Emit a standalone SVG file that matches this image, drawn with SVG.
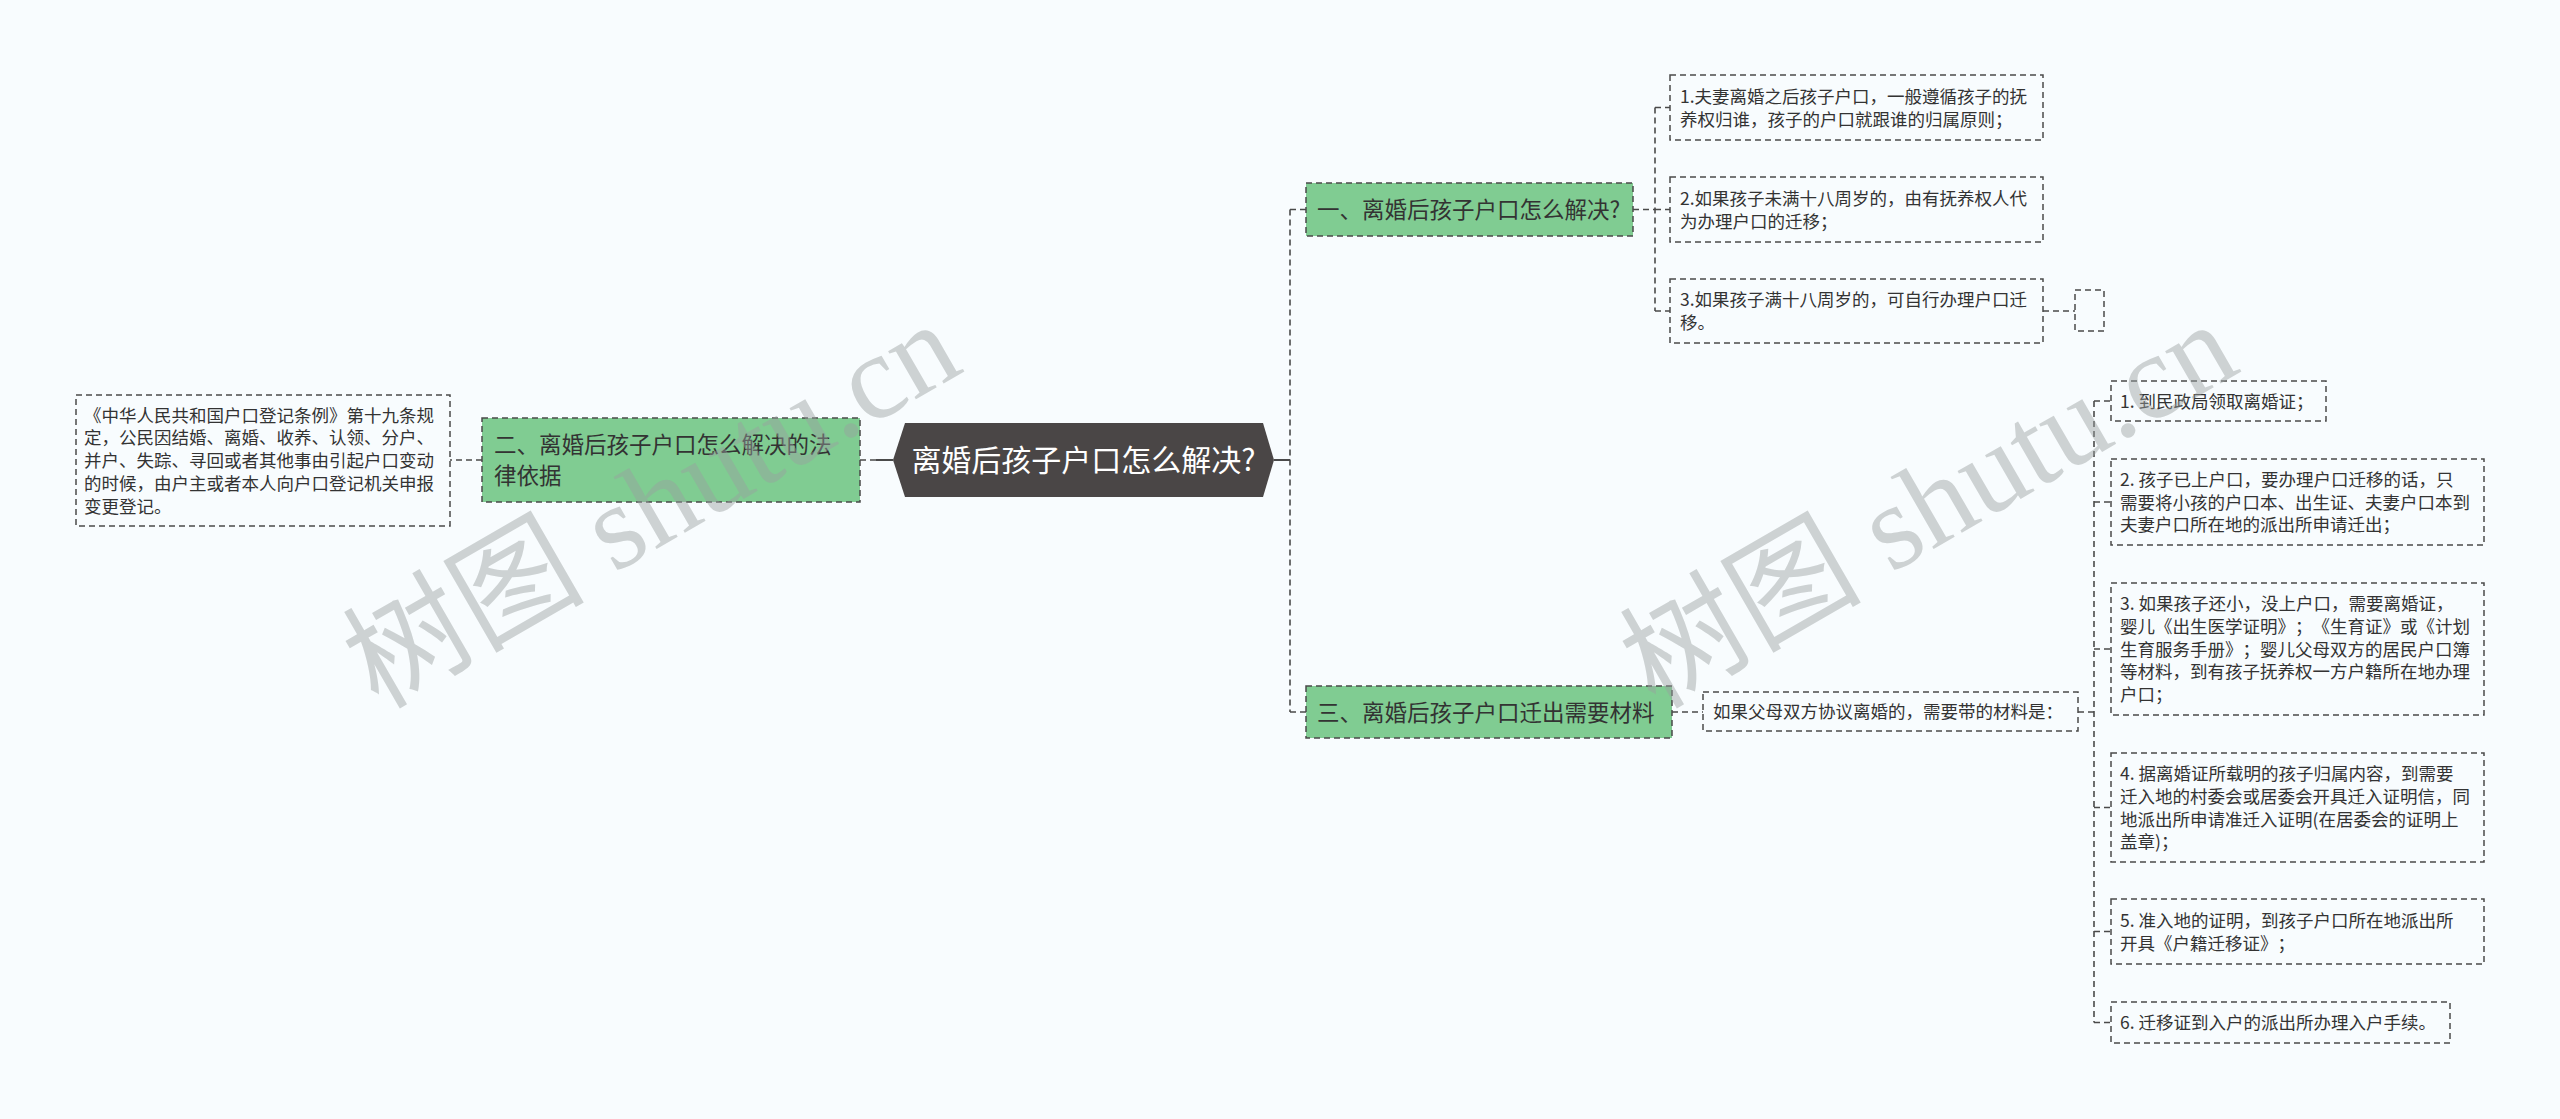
<svg xmlns="http://www.w3.org/2000/svg" width="2560" height="1119" viewBox="0 0 2560 1119">
<style>
.bg{fill:#f8fcfe}
.box{fill:none;stroke:#4a4a4a;stroke-width:1.5;stroke-dasharray:6 4}
.green{fill:#80cc92;stroke:#4a4a4a;stroke-width:1.5;stroke-dasharray:6 4}
.conn{fill:none;stroke:#4a4a4a;stroke-width:1.6;stroke-dasharray:6 4}
.solid{fill:none;stroke:#4a4a4a;stroke-width:2}
text{text-spacing-trim:space-all}
.t{font-family:"Noto Sans CJK SC","Noto Sans",sans-serif;font-size:17.5px;fill:#333}
.tg{font-family:"Noto Sans CJK SC","Noto Sans",sans-serif;font-size:22.5px;fill:#333}
.tc{font-family:"Noto Sans CJK SC","Noto Sans",sans-serif;font-size:30px;fill:#ffffff}
.wm{font-family:"Liberation Serif","Noto Sans CJK SC",serif;font-size:121px;fill:#9aa0a0;opacity:0.45}
</style>
<rect class="bg" x="0" y="0" width="2560" height="1119"/>

<g id="connectors">
  <path class="solid" d="M893 460 H876"/>
  <path class="conn" d="M876 460 H860"/>
  <path class="conn" d="M482 460 H450"/>
  <path class="solid" d="M1274 460 H1290"/>
  <path class="conn" d="M1290 209.5 V712 M1290 209.5 H1306 M1290 712 H1306"/>
  <path class="conn" d="M1633 209.5 H1655 M1655 107.5 V311 M1655 107.5 H1670 M1655 209.5 H1670 M1655 311 H1670"/>
  <path class="conn" d="M2043 311 H2075"/>
  <path class="conn" d="M1672 712 H1703"/>
  <path class="conn" d="M2078 712 H2094 M2094 401 V1022.5 M2094 401 H2111 M2094 502 H2111 M2094 649 H2111 M2094 807.5 H2111 M2094 931.5 H2111 M2094 1022.5 H2111"/>
</g>

<g id="root">
  <polygon points="893,460 905,423 1263,423 1274,460 1263,497 905,497" fill="#4a4646"/>
  <text class="tc" x="1083.5" y="471.4" text-anchor="middle">离婚后孩子户口怎么解决?</text>
</g>

<g id="n2">
  <rect class="green" x="482" y="418" width="378" height="84"/>
  <text class="tg"><tspan x="494" y="452.6">二、离婚后孩子户口怎么解决的法</tspan><tspan x="494" y="484.1">律依据</tspan></text>
</g>
<g id="n2-1">
  <rect class="box" x="76" y="395" width="374" height="131"/>
  <text class="t"><tspan x="84" y="421.7">《中华人民共和国户口登记条例》第十九条规</tspan><tspan x="84" y="444.4">定，公民因结婚、离婚、收养、认领、分户、</tspan><tspan x="84" y="467.2">并户、失踪、寻回或者其他事由引起户口变动</tspan><tspan x="84" y="489.9">的时候，由户主或者本人向户口登记机关申报</tspan><tspan x="84" y="512.7">变更登记。</tspan></text>
</g>

<g id="n1">
  <rect class="green" x="1306" y="183" width="327" height="53"/>
  <text class="tg" x="1317" y="218.1">一、离婚后孩子户口怎么解决?</text>
</g>
<g id="n1-1">
  <rect class="box" x="1670" y="75" width="373" height="65"/>
  <text class="t"><tspan x="1680" y="102.8">1.夫妻离婚之后孩子户口，一般遵循孩子的抚</tspan><tspan x="1680" y="125.6">养权归谁，孩子的户口就跟谁的归属原则；</tspan></text>
</g>
<g id="n1-2">
  <rect class="box" x="1670" y="177" width="373" height="65"/>
  <text class="t"><tspan x="1680" y="204.8">2.如果孩子未满十八周岁的，由有抚养权人代</tspan><tspan x="1680" y="227.6">为办理户口的迁移；</tspan></text>
</g>
<g id="n1-3">
  <rect class="box" x="1670" y="279" width="373" height="64"/>
  <text class="t"><tspan x="1680" y="306.3">3.如果孩子满十八周岁的，可自行办理户口迁</tspan><tspan x="1680" y="329.1">移。</tspan></text>
</g>
<g id="n1-3-1">
  <rect class="box" x="2075" y="290" width="29" height="41"/>
</g>

<g id="n3">
  <rect class="green" x="1306" y="686" width="366" height="52"/>
  <text class="tg" x="1317" y="720.6">三、离婚后孩子户口迁出需要材料</text>
</g>
<g id="n3-1">
  <rect class="box" x="1703" y="692" width="375" height="39"/>
  <text class="t" x="1713" y="718.2">如果父母双方协议离婚的，需要带的材料是：</text>
</g>
<g id="m1">
  <rect class="box" x="2111" y="381" width="215" height="40"/>
  <text class="t" x="2120" y="407.7">1. 到民政局领取离婚证；</text>
</g>
<g id="m2">
  <rect class="box" x="2111" y="459" width="373" height="86"/>
  <text class="t"><tspan x="2120" y="485.9">2. 孩子已上户口，要办理户口迁移的话，只</tspan><tspan x="2120" y="508.7">需要将小孩的户口本、出生证、夫妻户口本到</tspan><tspan x="2120" y="531.4">夫妻户口所在地的派出所申请迁出；</tspan></text>
</g>
<g id="m3">
  <rect class="box" x="2111" y="583" width="373" height="132"/>
  <text class="t"><tspan x="2120" y="610.2">3. 如果孩子还小，没上户口，需要离婚证，</tspan><tspan x="2120" y="632.9">婴儿《出生医学证明》；《生育证》或《计划</tspan><tspan x="2120" y="655.7">生育服务手册》；婴儿父母双方的居民户口簿</tspan><tspan x="2120" y="678.4">等材料，到有孩子抚养权一方户籍所在地办理</tspan><tspan x="2120" y="701.2">户口；</tspan></text>
</g>
<g id="m4">
  <rect class="box" x="2111" y="753" width="373" height="109"/>
  <text class="t"><tspan x="2120" y="780">4. 据离婚证所载明的孩子归属内容，到需要</tspan><tspan x="2120" y="802.8">迁入地的村委会或居委会开具迁入证明信，同</tspan><tspan x="2120" y="825.5">地派出所申请准迁入证明(在居委会的证明上</tspan><tspan x="2120" y="848.3">盖章)；</tspan></text>
</g>
<g id="m5">
  <rect class="box" x="2111" y="899" width="373" height="65"/>
  <text class="t"><tspan x="2120" y="926.8">5. 准入地的证明，到孩子户口所在地派出所</tspan><tspan x="2120" y="949.5">开具《户籍迁移证》；</tspan></text>
</g>
<g id="m6">
  <rect class="box" x="2111" y="1002" width="339" height="41"/>
  <text class="t" x="2120" y="1029.2">6. 迁移证到入户的派出所办理入户手续。</text>
</g>

<g id="watermark">
  <text class="wm" x="378" y="710" transform="rotate(-30 378 710)">树图 shutu.cn</text>
  <text class="wm" x="1655" y="710" transform="rotate(-30 1655 710)">树图 shutu.cn</text>
</g>
</svg>
